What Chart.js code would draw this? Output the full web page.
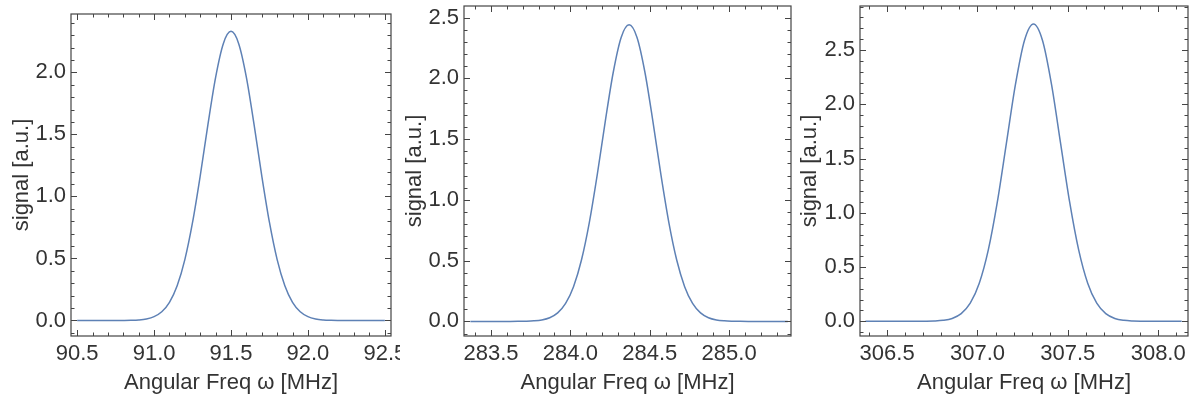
<!DOCTYPE html>
<html lang="en">
<head>
  <meta charset="UTF-8">
  <title>Signal vs Angular Freq</title>
  <script src="https://cdn.jsdelivr.net/npm/chart.js"></script>
  <style>
    body {
      margin: 0;
      background: #fff;
      width: 1192px;
      height: 403px;
      position: relative;
      overflow: hidden;
    }
    .panel {
      position: absolute;
      top: 0;
      height: 403px;
    }
  </style>
</head>
<body>
  <div class="panel" style="left:0;width:400px"><canvas id="c1"></canvas></div>
  <div class="panel" style="left:400px;width:400px"><canvas id="c2"></canvas></div>
  <div class="panel" style="left:795px;width:397px"><canvas id="c3"></canvas></div>

  <script>
    // panel 1
    const freq1 = [90.5, 90.55, 90.6, 90.65, 90.7, 90.75, 90.8, 90.85, 90.9, 90.95,
      91.0, 91.05, 91.1, 91.15, 91.2, 91.25, 91.3, 91.35, 91.4, 91.45,
      91.5, 91.55, 91.6, 91.65, 91.7, 91.75, 91.8, 91.85, 91.9, 91.95,
      92.0, 92.05, 92.1, 92.15, 92.2, 92.25, 92.3, 92.35, 92.4, 92.45, 92.5];
    const signal1 = [0, 0, 0, 0, 0, 0.0001, 0.0005, 0.0016, 0.0046, 0.0124,
      0.0308, 0.0701, 0.146, 0.280, 0.491, 0.790, 1.166, 1.579, 1.960, 2.231,
      2.330, 2.231, 1.960, 1.579, 1.166, 0.790, 0.491, 0.280, 0.146, 0.0701,
      0.0308, 0.0124, 0.0046, 0.0016, 0.0005, 0.0001, 0, 0, 0, 0, 0];

    // panel 2
    const freq2 = [283.37, 283.42, 283.47, 283.52, 283.57, 283.62, 283.67, 283.72, 283.77, 283.82,
      283.87, 283.92, 283.97, 284.02, 284.07, 284.12, 284.17, 284.22, 284.27, 284.32,
      284.37, 284.42, 284.47, 284.52, 284.57, 284.62, 284.67, 284.72, 284.77, 284.82,
      284.87, 284.92, 284.97, 285.02, 285.07, 285.12, 285.17, 285.22, 285.27, 285.32, 285.37];
    const signal2 = [0, 0, 0, 0, 0, 0.0001, 0.0005, 0.0015, 0.0045, 0.0122,
      0.0306, 0.0704, 0.148, 0.286, 0.505, 0.817, 1.211, 1.646, 2.048, 2.336,
      2.440, 2.336, 2.048, 1.646, 1.211, 0.817, 0.505, 0.286, 0.148, 0.0704,
      0.0306, 0.0122, 0.0045, 0.0015, 0.0005, 0.0001, 0, 0, 0, 0, 0];

    // panel 3
    const freq3 = [306.38, 306.41, 306.46, 306.51, 306.56, 306.61, 306.66, 306.71, 306.76, 306.81,
      306.86, 306.91, 306.96, 307.01, 307.06, 307.11, 307.16, 307.21, 307.26, 307.31,
      307.36, 307.41, 307.46, 307.51, 307.56, 307.61, 307.66, 307.71, 307.76, 307.81,
      307.86, 307.91, 307.96, 308.01, 308.06, 308.11, 308.13];
    const signal3 = [0, 0, 0, 0, 0, 0, 0.0002, 0.0007, 0.0027, 0.0091,
      0.0269, 0.0711, 0.167, 0.351, 0.658, 1.100, 1.640, 2.181, 2.588, 2.740,
      2.588, 2.181, 1.640, 1.100, 0.658, 0.351, 0.167, 0.0711, 0.0269, 0.0091,
      0.0027, 0.0007, 0.0002, 0, 0, 0, 0];

    const xTicks1 = [90.5, 91.0, 91.5, 92.0, 92.5];
    const xTicks2 = [283.5, 284.0, 284.5, 285.0];
    const xTicks3 = [306.5, 307.0, 307.5, 308.0];
    const yTicks1 = [0, 0.5, 1.0, 1.5, 2.0];
    const yTicks23 = [0, 0.5, 1.0, 1.5, 2.0, 2.5];

    const xTitle = 'Angular Freq ω [MHz]';
    const yTitle = 'signal [a.u.]';
    const lineColor = 'rgb(94, 129, 181)';
    const textColor = '#333';
    const fontFamily = "'Liberation Sans', Arial, sans-serif";

    // mathematica-like frame with inward ticks on all four sides
    const frameTicks = {
      id: 'frameTicks',
      afterDraw(chart) {
        const { ctx, chartArea: a, scales } = chart;
        const xs = scales.x, ys = scales.y;
        ctx.save();
        ctx.strokeStyle = '#444';
        ctx.lineWidth = 1.2;
        ctx.strokeRect(a.left, a.top, a.right - a.left, a.bottom - a.top);
        ctx.lineWidth = 1;
        ctx.beginPath();
        for (let i = Math.ceil(xs.min * 10); i <= Math.floor(xs.max * 10); i++) {
          const px = Math.round(xs.getPixelForValue(i / 10)) + 0.5;
          const len = i % 5 === 0 ? 6 : 3.5;
          ctx.moveTo(px, a.bottom); ctx.lineTo(px, a.bottom - len);
          ctx.moveTo(px, a.top); ctx.lineTo(px, a.top + len);
        }
        for (let i = Math.ceil(ys.min * 10); i <= Math.floor(ys.max * 10); i++) {
          const py = Math.round(ys.getPixelForValue(i / 10)) + 0.5;
          const len = i % 5 === 0 ? 6 : 3.5;
          ctx.moveTo(a.left, py); ctx.lineTo(a.left + len, py);
          ctx.moveTo(a.right, py); ctx.lineTo(a.right - len, py);
        }
        ctx.stroke();
        ctx.restore();
      }
    };

    function makeChart(id, freq, signal, cfg) {
      const points = freq.map((f, i) => ({ x: f, y: signal[i] }));
      return new Chart(document.getElementById(id), {
        type: 'line',
        data: {
          datasets: [{
            data: points,
            borderColor: lineColor,
            borderWidth: 1.5,
            pointRadius: 0,
            fill: false,
            cubicInterpolationMode: 'monotone'
          }]
        },
        options: {
          responsive: true,
          maintainAspectRatio: false,
          animation: false,
          events: [],
          layout: { padding: cfg.pad },
          plugins: {
            legend: { display: false },
            tooltip: { enabled: false }
          },
          scales: {
            x: {
              type: 'linear',
              min: cfg.xMin,
              max: cfg.xMax,
              grid: { display: false, drawTicks: false },
              border: { display: false },
              afterBuildTicks: s => { s.ticks = cfg.xTicks.map(v => ({ value: v })); },
              afterFit: s => {
                s.height = cfg.xHeight;
                s.paddingLeft = 0;
                s.paddingRight = 0;
              },
              ticks: {
                color: textColor,
                font: { family: fontFamily, size: 22 },
                padding: 5,
                maxRotation: 0,
                autoSkip: false,
                callback: v => Number(v).toFixed(1)
              },
              title: {
                display: true,
                text: xTitle,
                color: textColor,
                font: { family: fontFamily, size: 22 },
                padding: 0
              }
            },
            y: {
              type: 'linear',
              min: cfg.yMin,
              max: cfg.yMax,
              grid: { display: false, drawTicks: false },
              border: { display: false },
              afterBuildTicks: s => { s.ticks = cfg.yTicks.map(v => ({ value: v })); },
              afterFit: s => {
                s.width = cfg.yWidth;
                s.paddingTop = 0;
                s.paddingBottom = 0;
              },
              ticks: {
                color: textColor,
                font: { family: fontFamily, size: 22 },
                padding: 5,
                autoSkip: false,
                callback: v => Number(v).toFixed(1)
              },
              title: {
                display: true,
                text: yTitle,
                color: textColor,
                font: { family: fontFamily, size: 22 },
                padding: 0
              }
            }
          }
        },
        plugins: [frameTicks]
      });
    }

    makeChart('c1', freq1, signal1, {
      xMin: 90.46, xMax: 92.54, yMin: -0.125, yMax: 2.47,
      xTicks: xTicks1, yTicks: yTicks1,
      pad: { left: 9, right: 9, top: 14, bottom: 7 },
      yWidth: 62, xHeight: 60
    });
    makeChart('c2', freq2, signal2, {
      xMin: 283.33, xMax: 285.39, yMin: -0.12, yMax: 2.595,
      xTicks: xTicks2, yTicks: yTicks23,
      pad: { left: 2, right: 9, top: 6, bottom: 7 },
      yWidth: 62, xHeight: 60
    });
    makeChart('c3', freq3, signal3, {
      xMin: 306.35, xMax: 308.165, yMin: -0.135, yMax: 2.905,
      xTicks: xTicks3, yTicks: yTicks23,
      pad: { left: 2, right: 4, top: 6, bottom: 7 },
      yWidth: 63, xHeight: 60
    });
  </script>
</body>
</html>
